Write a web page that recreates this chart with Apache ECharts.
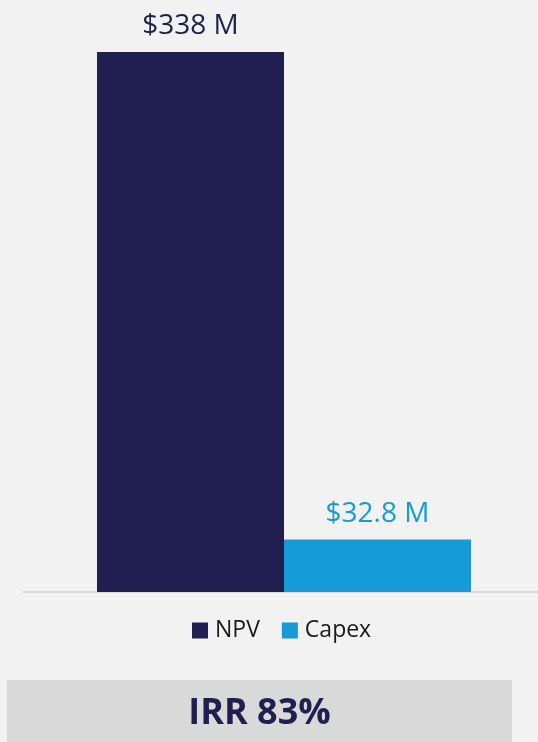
<!DOCTYPE html>
<html>
<head>
<meta charset="utf-8">
<script src="https://cdn.jsdelivr.net/npm/echarts@6/dist/echarts.min.js"></script>
<style>
html,body{margin:0;padding:0;background:#f2f2f2;}
#c{width:538px;height:742px;}
</style>
</head>
<body>
<div id="c"></div>
<script>
const categories = ['Project'];
const seriesNames = ['NPV', 'Capex'];
const npvValues = [338];
const capexValues = [32.8];
const valueLabels = ['$338 M', '$32.8 M'];
const irrText = 'IRR 83%';

const navy = '#201f50';
const blue = '#179bd8';
const font = 'Open Sans';

const chart = echarts.init(document.getElementById('c'), null, {renderer: 'canvas'});
chart.setOption({
  backgroundColor: '#f2f2f2',
  animation: false,
  grid: {left: 23, right: -7, top: 52, bottom: 150, containLabel: false, outerBoundsMode: 'none'},
  xAxis: {
    type: 'category', data: categories,
    axisLine: {lineStyle: {color: '#dadada', width: 2}},
    axisTick: {show: false}, axisLabel: {show: false}
  },
  yAxis: {type: 'value', min: 0, max: 338, show: false, splitLine: {show: false}},
  legend: {
    data: seriesNames, left: 192, top: 619, padding: 0, icon: 'rect',
    itemWidth: 16, itemHeight: 16, itemGap: 22,
    textStyle: {fontFamily: font, fontSize: 23, color: '#1a1a1a', padding: [0, 0, 0, 2]}
  },
  series: [
    {
      name: seriesNames[0], type: 'bar', data: npvValues, barWidth: 187, barGap: '0%',
      itemStyle: {color: navy},
      label: {show: true, position: 'top', distance: 12, formatter: () => valueLabels[0],
        fontFamily: font, fontSize: 28, color: navy}
    },
    {
      name: seriesNames[1], type: 'bar', data: capexValues, barWidth: 187, barGap: '0%',
      itemStyle: {color: blue},
      label: {show: true, position: 'top', distance: 12, formatter: () => valueLabels[1],
        fontFamily: font, fontSize: 28, color: blue}
    }
  ],
  graphic: [
    {type: 'rect', left: 7, top: 680, shape: {width: 505, height: 70}, style: {fill: '#d9d9d9'}},
    {type: 'text', x: 259.5, y: 714, style: {text: irrText, align: 'center', verticalAlign: 'middle', fontFamily: font, fontWeight: 'bold', fontSize: 36, fill: navy}}
  ]
});
</script>
</body>
</html>
